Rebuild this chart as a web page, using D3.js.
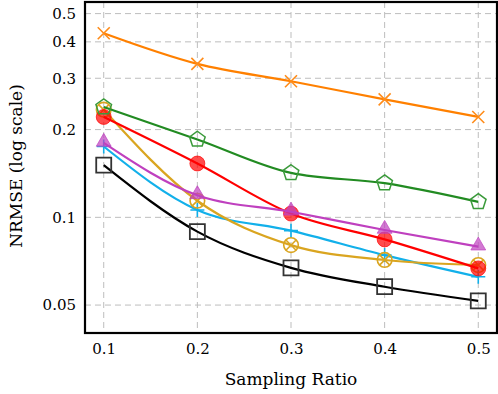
<!DOCTYPE html>
<html>

<head>
    <meta charset="UTF-8" />
    <title>nrmse</title>
    <style>
        body {
            margin: 0;
            padding: 0;
            background: #fff;
        }

        svg {
            display: block;
        }
    </style>
</head>

<body>
    <div class="container"></div>

    <script src="https://cdnjs.cloudflare.com/ajax/libs/d3/7.8.5/d3.min.js"></script>
    <script>
        const ratios = [0.1, 0.2, 0.3, 0.4, 0.5]
        const xTicks = [0.1, 0.2, 0.3, 0.4, 0.5]
        const yTicks = [0.05, 0.1, 0.2, 0.3, 0.4, 0.5]

        // drawn in this order, last one on top
        const black = [0.151, 0.0893, 0.0671, 0.0578, 0.0517]
        const cyan = [0.175, 0.106, 0.090, 0.0742, 0.0625]
        const gold = [0.234, 0.114, 0.0803, 0.0714, 0.0686]
        const red = [0.221, 0.153, 0.103, 0.084, 0.0668]
        const magenta = [0.180, 0.119, 0.1045, 0.0905, 0.0793]
        const green = [0.239, 0.185, 0.142, 0.131, 0.113]
        const orange = [0.428, 0.336, 0.293, 0.254, 0.221]

        const series = [
            { values: black, color: '#000000', mark: 'square', markColor: '#333' },
            { values: cyan, color: '#12b0ea', mark: 'plus' },
            { values: gold, color: '#daa520', mark: 'otimes' },
            { values: red, color: '#ff0000', mark: 'circle' },
            { values: magenta, color: '#bf40bf', mark: 'triangle' },
            { values: green, color: '#228b22', mark: 'pentagon', markColor: '#3a9a3a' },
            { values: orange, color: '#ff8000', mark: 'cross', markColor: '#ff8c1a' },
        ]

        const width = 498, height = 394
        const margin = { top: 2, right: 1, bottom: 61, left: 85 }
        const font = "'DejaVu Serif', serif"

        const svg = d3.select('.container').append('svg')
            .attr('width', width)
            .attr('height', height)
            .attr('font-family', font)

        const x = d3.scaleLinear().domain([0.08, 0.52]).range([margin.left, width - margin.right])
        const y = d3.scaleLog().domain([0.0401, 0.548]).range([height - margin.bottom, margin.top])

        // grid
        const grid = svg.append('g')
            .attr('stroke', '#bdbdbd')
            .attr('stroke-width', 1)
            .attr('stroke-dasharray', '6,4')
        grid.selectAll('.gx').data(xTicks).join('line')
            .attr('x1', d => x(d)).attr('x2', d => x(d))
            .attr('y1', margin.top).attr('y2', height - margin.bottom)
        grid.selectAll('.gy').data(yTicks).join('line')
            .attr('x1', margin.left).attr('x2', width - margin.right)
            .attr('y1', d => y(d)).attr('y2', d => y(d))

        // axes (labels only, no tick marks)
        svg.append('g')
            .attr('transform', `translate(0,${height - margin.bottom})`)
            .call(d3.axisBottom(x).tickValues(xTicks).tickSize(0).tickPadding(10).tickFormat(d3.format('.1f')))
        svg.append('g')
            .attr('transform', `translate(${margin.left},0)`)
            .call(d3.axisLeft(y).tickValues(yTicks).tickSize(0).tickPadding(9).tickFormat(d => d == 0.05 ? '0.05' : d3.format('.1f')(d)))
        svg.selectAll('.domain').remove()
        svg.selectAll('.tick text')
            .attr('font-family', font)
            .attr('font-size', 15)
            .attr('fill', '#000')

        // lines
        const line = d3.line()
            .x((d, i) => x(ratios[i]))
            .y(d => y(d))
            .curve(d3.curveMonotoneX)

        const symbols = {
            circle: d3.symbol(d3.symbolCircle, 175),
            triangle: d3.symbol(d3.symbolTriangle, 95),
            square: d3.symbol(d3.symbolSquare, 225),
        }

        const pentagon = r => d3.range(5).map(k => {
            const a = -Math.PI / 2 + k * 2 * Math.PI / 5
            return [r * Math.cos(a), r * Math.sin(a)]
        })

        series.forEach(s => {
            svg.append('path')
                .datum(s.values)
                .attr('fill', 'none')
                .attr('stroke', s.color)
                .attr('stroke-width', 2.2)
                .attr('d', line)

            const mc = s.markColor || s.color
            const g = svg.append('g')
            const pts = g.selectAll('g').data(s.values).join('g')
                .attr('transform', (d, i) => `translate(${x(ratios[i])},${y(d)})`)

            if (s.mark == 'circle') {
                pts.append('path').attr('d', symbols.circle())
                    .attr('fill', mc).attr('fill-opacity', 0.7)
                    .attr('stroke', mc).attr('stroke-opacity', 0.7)
            } else if (s.mark == 'triangle') {
                pts.append('path').attr('d', symbols.triangle())
                    .attr('transform', 'translate(0,-1)')
                    .attr('fill', mc).attr('fill-opacity', 0.7)
                    .attr('stroke', mc).attr('stroke-opacity', 0.7)
            } else if (s.mark == 'square') {
                pts.append('path').attr('d', symbols.square())
                    .attr('fill', 'none').attr('stroke', mc).attr('stroke-width', 1.8)
            } else if (s.mark == 'pentagon') {
                pts.append('polygon').attr('points', pentagon(8.2).join(' '))
                    .attr('fill', 'none').attr('stroke', mc).attr('stroke-width', 1.5)
            } else if (s.mark == 'otimes') {
                pts.append('circle').attr('r', 7.3)
                    .attr('fill', 'none').attr('stroke', mc).attr('stroke-width', 1.6)
                pts.append('path').attr('d', 'M-5.1,-5.1L5.1,5.1M-5.1,5.1L5.1,-5.1')
                    .attr('stroke', mc).attr('stroke-width', 1.6)
            } else if (s.mark == 'cross') {
                pts.append('path').attr('d', 'M-6,-6L6,6M-6,6L6,-6')
                    .attr('stroke', mc).attr('stroke-width', 1.6)
            } else if (s.mark == 'plus') {
                pts.append('path').attr('d', 'M-7,0L7,0M0,-7L0,7')
                    .attr('stroke', mc).attr('stroke-width', 1.6)
            }
        })

        // frame
        svg.append('rect')
            .attr('x', margin.left).attr('y', margin.top)
            .attr('width', width - margin.right - margin.left)
            .attr('height', height - margin.bottom - margin.top)
            .attr('fill', 'none')
            .attr('stroke', '#000')
            .attr('stroke-width', 2.2)

        // axis titles
        svg.append('text')
            .attr('x', x(0.3)).attr('y', 385)
            .attr('text-anchor', 'middle')
            .attr('font-size', 17)
            .text('Sampling Ratio')

        svg.append('text')
            .attr('transform', `translate(22,${y(0.15)}) rotate(-90)`)
            .attr('text-anchor', 'middle')
            .attr('font-size', 17)
            .text('NRMSE (log scale)')
    </script>
</body>

</html>
